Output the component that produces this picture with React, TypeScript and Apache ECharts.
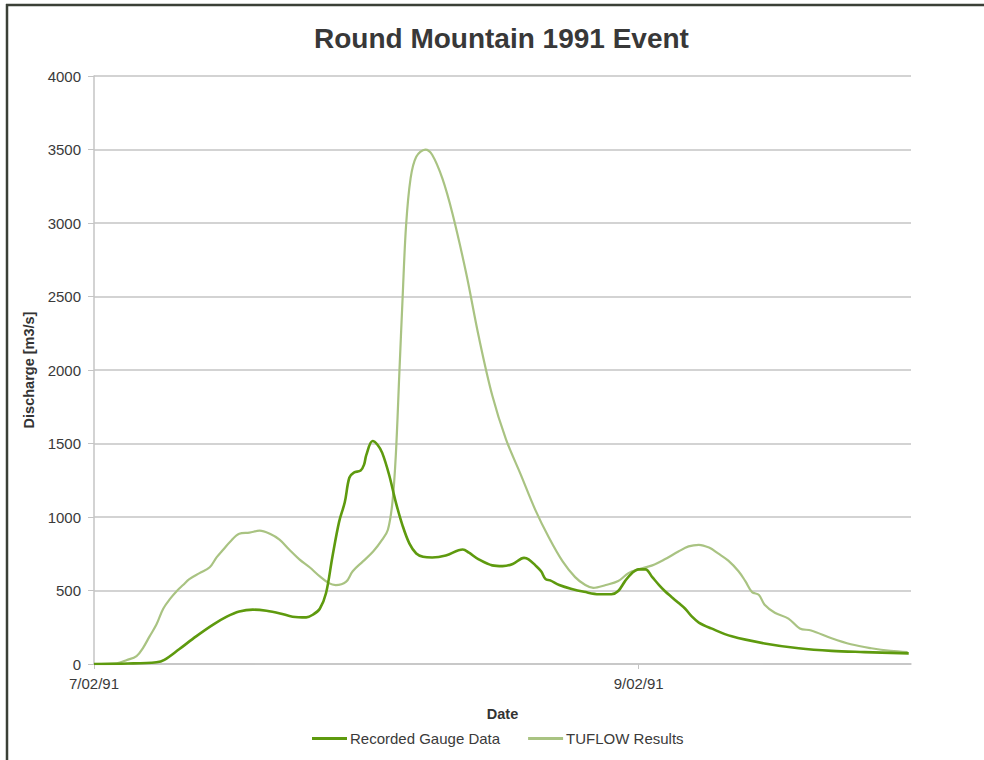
import React, { useEffect, useRef } from "react";
import * as echarts from "echarts";

// Time in hours since 7/02/91 00:00
const recordedHours = [0, 3, 5.5, 6.2, 7.5, 9, 10.5, 11.7, 12.8, 14.0, 15.2, 16.4, 17.5, 18.7, 19.3, 19.9, 20.45, 21.0, 21.6, 22.1, 22.5, 22.9, 23.5, 23.8, 24.0, 24.55, 25.0, 25.4, 26.0, 26.6, 27.2, 27.8, 28.4, 29.0, 29.8, 31.0, 32.5, 33.05, 33.9, 35.1, 36.0, 36.9, 37.9, 38.3, 38.9, 39.4, 39.8, 40.2, 41.0, 42.1, 43.2, 44.5, 45.6, 46.2, 46.8, 47.4, 48.0, 48.6, 49.2, 49.8, 50.3, 50.9, 51.5, 52.1, 52.7, 53.3, 54.4, 56.2, 59.1, 62.1, 65.0, 67.9, 71.8];
const recordedValues = [0, 3, 12, 28, 100, 188, 268, 322, 357, 370, 362, 344, 322, 317, 336, 376, 483, 725, 967, 1100, 1267, 1302, 1316, 1356, 1423, 1517, 1490, 1436, 1289, 1100, 940, 819, 752, 730, 725, 738, 779, 757, 712, 671, 666, 680, 722, 712, 671, 631, 577, 569, 537, 510, 491, 475, 475, 497, 564, 618, 644, 644, 591, 537, 497, 456, 416, 376, 322, 282, 242, 188, 140, 107, 89, 81, 72];

const tuflowHours = [0, 2, 2.9, 3.75, 4.3, 4.9, 5.5, 6.1, 6.7, 7.3, 7.85, 8.4, 9.3, 10.2, 10.8, 11.4, 12.0, 12.8, 13.7, 14.6, 15.5, 16.35, 17.2, 18.1, 19.0, 19.9, 20.7, 21.3, 22.2, 22.8, 23.7, 24.6, 25.4, 25.9, 26.3, 26.6, 26.9, 27.2, 27.5, 27.9, 28.4, 29.2, 29.8, 30.7, 31.6, 32.8, 33.9, 35.1, 36.3, 37.6, 38.9, 40.1, 41.3, 42.4, 43.3, 44.0, 45.1, 46.2, 47.1, 48.0, 49.2, 50.3, 51.5, 52.4, 53.3, 54.2, 55.0, 55.9, 56.8, 57.4, 58.0, 58.6, 59.1, 60.0, 61.2, 62.2, 63.2, 65.0, 66.7, 68.5, 70.2, 71.7];
const tuflowValues = [0, 5, 27, 54, 107, 188, 268, 376, 443, 497, 537, 577, 618, 658, 725, 779, 832, 886, 894, 907, 886, 846, 779, 712, 658, 596, 550, 537, 558, 631, 698, 765, 846, 913, 1100, 1423, 1960, 2497, 2980, 3303, 3450, 3499, 3464, 3303, 3061, 2658, 2229, 1826, 1530, 1290, 1047, 859, 698, 591, 537, 518, 537, 564, 618, 644, 671, 712, 765, 800, 811, 792, 752, 703, 631, 564, 489, 470, 403, 349, 309, 242, 228, 175, 134, 107, 89, 81];

const xTickHours = [0, 48];
const xTickLabels = ["7/02/91", "9/02/91"];

const seriesNames = ["Recorded Gauge Data", "TUFLOW Results"];

export default function App() {
  const ref = useRef<HTMLDivElement>(null);
  useEffect(() => {
    if (!ref.current) return;
    const chart = echarts.init(ref.current, undefined, { renderer: "svg" });
    const rec = recordedHours.map((h, i) => [h, recordedValues[i]]);
    const tuf = tuflowHours.map((h, i) => [h, tuflowValues[i]]);
    const font = "Liberation Sans, Arial, sans-serif";
    chart.setOption({
      animation: false,
      backgroundColor: "#ffffff",
      title: {
        text: "Round Mountain 1991 Event",
        left: 309,
        top: 19,
        textStyle: { fontFamily: font, fontSize: 28, fontWeight: "bold", color: "#383838" },
      },
      legend: {
        bottom: 9,
        left: 307,
        icon: "rect",
        itemWidth: 35,
        itemHeight: 3,
        itemGap: 28,
        textStyle: { fontFamily: font, fontSize: 15, color: "#3a3a3a", padding: [0, 0, 0, -2] },
        data: seriesNames,
      },
      grid: { left: 94, right: 73, top: 76, bottom: 96 },
      xAxis: {
        type: "value",
        min: 0,
        max: 72,
        interval: 48,
        name: "Date",
        nameLocation: "middle",
        nameGap: 42,
        nameTextStyle: { fontFamily: font, fontSize: 14.5, fontWeight: "bold", color: "#333" },
        axisLine: { show: true, lineStyle: { color: "#c4c4c4", width: 1.5 } },
        axisTick: { show: true, length: 5, lineStyle: { color: "#c4c4c4" }, customValues: xTickHours },
        splitLine: { show: false },
        axisLabel: {
          fontFamily: font,
          fontSize: 15,
          color: "#3a3a3a",
          margin: 12,
          customValues: xTickHours,
          formatter: (v: number) => {
            const i = xTickHours.indexOf(v);
            return i >= 0 ? xTickLabels[i] : "";
          },
        },
      },
      yAxis: {
        type: "value",
        min: 0,
        max: 4000,
        interval: 500,
        name: "Discharge [m3/s]",
        nameLocation: "middle",
        nameRotate: 90,
        nameGap: 55,
        nameTextStyle: { fontFamily: font, fontSize: 14.5, fontWeight: "bold", color: "#333" },
        axisLine: { show: true, lineStyle: { color: "#c4c4c4", width: 1.5 } },
        axisTick: { show: true, length: 6, lineStyle: { color: "#c4c4c4" } },
        splitLine: { show: true, lineStyle: { color: "#c4c4c4", width: 1.5 } },
        axisLabel: {
          fontFamily: font,
          fontSize: 15,
          color: "#3a3a3a",
          margin: 13,
          formatter: (v: number) => String(v),
        },
      },
      graphic: [
        { type: "line", shape: { x1: 7, y1: 4, x2: 7, y2: 760 }, style: { stroke: "#3b4037", lineWidth: 2.5 } },
        { type: "line", shape: { x1: 6, y1: 5, x2: 984, y2: 5 }, style: { stroke: "#3b4037", lineWidth: 2.5 } },
      ],
      series: [
        {
          name: seriesNames[0],
          type: "line",
          data: rec,
          symbol: "none",
          smooth: 0.35,
          lineStyle: { color: "#5e9a0e", width: 2.6 },
          itemStyle: { color: "#5e9a0e" },
          z: 3,
        },
        {
          name: seriesNames[1],
          type: "line",
          data: tuf,
          symbol: "none",
          smooth: 0.35,
          lineStyle: { color: "#a9c382", width: 2.2 },
          itemStyle: { color: "#a9c382" },
          z: 2,
        },
      ],
    });
    return () => chart.dispose();
  }, []);
  return (
    <div
      ref={ref}
      style={{ position: "absolute", left: 0, top: 0, width: 984, height: 760, background: "#fff" }}
    />
  );
}
